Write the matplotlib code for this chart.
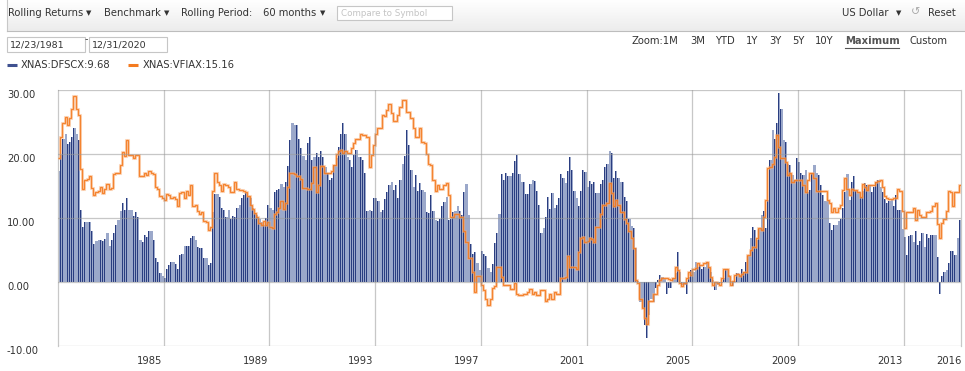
import numpy as np
import matplotlib
matplotlib.use("Agg")
import matplotlib.pyplot as plt
from matplotlib.patches import Rectangle

# ---------------- data (monthly rolling 60-month returns, %) ----------------
dfscx = [
    17.3, 19.8, 22.4, 23.2, 21.5, 21.9, 22.7, 24.0, 23.1, 22.2,
    11.2, 8.6, 9.4, 9.4, 9.3, 8.0, 5.9, 6.4, 6.6, 6.5,
    6.4, 6.7, 7.6, 5.6, 6.6, 7.6, 8.9, 9.7, 11.1, 12.4,
    11.2, 13.1, 11.2, 11.2, 10.3, 11.0, 10.2, 6.5, 6.3, 7.4,
    7.1, 8.0, 8.0, 6.6, 3.8, 3.1, 1.4, 1.0, 0.6, 2.0,
    2.7, 3.1, 3.1, 2.8, 2.0, 4.2, 4.4, 5.6, 5.6, 5.6,
    6.8, 7.2, 6.6, 5.4, 5.3, 5.3, 3.7, 3.7, 2.7, 3.0,
    11.0, 13.8, 13.7, 13.3, 11.5, 11.2, 10.2, 11.2, 9.9, 10.3,
    10.2, 11.6, 12.0, 13.2, 13.6, 13.9, 13.3, 13.1, 11.5, 10.8,
    10.5, 9.9, 9.3, 8.9, 10.0, 12.1, 11.5, 11.2, 14.1, 14.4,
    14.6, 15.3, 14.8, 15.7, 18.1, 22.2, 24.9, 24.6, 24.5, 22.4,
    21.0, 19.7, 19.1, 21.7, 22.6, 19.1, 19.6, 20.1, 19.6, 20.4,
    19.6, 18.0, 17.0, 15.9, 16.2, 18.3, 19.3, 21.1, 23.2, 24.8,
    23.2, 19.6, 19.1, 18.0, 19.8, 20.6, 19.6, 19.6, 19.1, 17.0,
    11.1, 11.3, 11.1, 13.1, 13.1, 12.6, 10.9, 11.3, 12.9, 14.0,
    15.2, 15.7, 14.4, 15.2, 13.1, 15.9, 18.4, 19.7, 23.8, 21.4,
    17.5, 14.9, 16.7, 14.2, 15.4, 14.4, 14.0, 11.0, 10.8, 13.6,
    11.1, 9.7, 9.5, 9.8, 11.9, 12.5, 13.3, 9.7, 9.9, 11.0,
    11.1, 11.9, 11.1, 10.5, 14.1, 15.3, 10.5, 5.9, 4.3, 4.7,
    2.9, 1.9, 4.9, 4.3, 4.0, 2.2, 1.5, 2.8, 6.1, 7.6,
    10.7, 16.8, 15.9, 17.1, 16.5, 16.5, 17.1, 18.9, 19.8, 16.8,
    15.7, 15.7, 13.7, 13.7, 15.3, 15.9, 15.8, 14.2, 12.0, 7.7,
    8.5, 10.2, 13.3, 11.4, 13.9, 11.5, 12.1, 13.2, 16.8, 16.3,
    15.4, 17.3, 19.5, 17.5, 14.2, 13.1, 11.9, 14.2, 17.5, 17.2,
    14.9, 15.8, 15.3, 15.7, 13.9, 13.9, 15.3, 15.9, 18.0, 18.4,
    20.5, 20.2, 16.3, 17.3, 16.3, 15.7, 15.7, 13.3, 12.6, 9.9,
    8.8, 8.4, 5.3, 0.1, -3.1, -4.1, -6.7, -8.8, -5.2, -2.6,
    -3.1, -1.0, 0.3, 1.1, 0.8, 0.4, -1.8, -1.0, -1.0, 0.6,
    1.4, 4.7, 1.6, -0.5, -0.5, -1.8, 0.8, 1.9, 1.6, 3.2,
    2.4, 2.7, 2.0, 2.4, 3.2, 2.4, 1.6, 0.3, -1.3, -0.5,
    -0.1, -0.2, 0.7, 2.0, 1.1, 0.2, -0.7, 0.2, 1.4, 1.1,
    2.1, 1.6, 3.2, 4.0, 6.8, 8.6, 8.1, 6.6, 8.3, 10.5,
    11.1, 8.4, 12.8, 19.1, 23.8, 22.4, 24.8, 29.5, 27.1, 22.2,
    21.9, 18.5, 18.3, 16.7, 15.9, 19.3, 18.7, 17.0, 16.7, 17.5,
    14.1, 14.4, 17.1, 18.3, 17.0, 16.7, 15.2, 13.6, 12.6, 12.8,
    9.2, 8.1, 8.9, 8.9, 9.5, 9.9, 11.6, 14.1, 16.8, 12.8,
    15.7, 16.5, 14.2, 14.1, 13.3, 14.2, 15.4, 15.1, 15.2, 14.1,
    14.9, 15.7, 15.9, 14.9, 14.1, 13.0, 12.3, 12.7, 12.8, 11.9,
    13.6, 11.3, 11.3, 8.3, 7.1, 4.2, 7.2, 7.3, 6.3, 7.9,
    5.8, 6.4, 7.7, 5.4, 7.5, 6.8, 7.4, 7.4, 7.4, 3.9,
    -1.9, 1.0, 1.5, 1.9, 2.9, 4.8, 4.8, 4.2, 6.8, 9.68,
]
vfiax = [
    19.4, 22.7, 24.8, 25.8, 24.6, 25.6, 27.1, 29.0, 27.0, 26.1,
    17.6, 14.6, 15.9, 16.1, 16.6, 14.7, 13.6, 14.0, 14.2, 14.9,
    13.9, 14.5, 15.3, 14.5, 14.7, 16.8, 17.0, 17.1, 18.3, 20.3,
    19.7, 22.2, 19.9, 19.8, 19.3, 19.9, 19.9, 16.6, 16.6, 17.1,
    16.7, 17.3, 17.0, 16.8, 14.9, 14.6, 13.5, 13.1, 12.8, 13.7,
    13.6, 13.1, 13.3, 12.9, 11.8, 13.9, 14.1, 13.2, 14.2, 13.6,
    15.2, 11.9, 12.0, 11.1, 10.7, 11.0, 9.5, 9.4, 8.1, 8.6,
    14.2, 17.0, 15.7, 15.2, 14.2, 15.3, 15.2, 14.9, 14.0, 14.1,
    15.6, 14.5, 14.4, 14.4, 14.2, 14.1, 13.5, 12.0, 11.4, 10.8,
    10.2, 9.2, 8.9, 9.5, 8.9, 9.3, 8.6, 8.5, 10.6, 11.0,
    11.5, 12.6, 11.4, 12.4, 14.9, 17.0, 17.0, 16.8, 16.5, 16.5,
    16.1, 14.7, 14.7, 14.6, 14.5, 15.5, 18.0, 14.0, 15.2, 18.1,
    18.1, 17.0, 17.0, 17.0, 17.3, 18.3, 20.0, 20.4, 20.6, 20.2,
    20.4, 20.1, 20.1, 21.0, 21.7, 22.4, 22.4, 23.1, 22.9, 22.9,
    22.7, 18.0, 19.8, 21.4, 23.2, 24.1, 24.1, 26.1, 26.0, 26.9,
    27.8, 26.4, 25.1, 25.1, 26.1, 27.3, 28.4, 28.4, 26.6, 26.6,
    25.6, 24.0, 22.7, 22.7, 24.0, 21.9, 21.7, 20.0, 18.5, 18.3,
    15.9, 14.2, 15.2, 14.5, 14.5, 15.2, 15.4, 13.6, 10.1, 10.1,
    10.7, 10.7, 10.2, 10.2, 7.9, 6.3, 3.7, 3.7, 1.6, -1.5,
    1.0, 1.0, -0.5, -1.25, -2.6, -3.6, -2.6, -1.0, -0.7, 2.4,
    2.4, 0.8, -0.4, -0.5, -0.5, -1.1, -1.1, -0.2, -1.8, -2.1,
    -2.1, -1.9, -1.9, -1.5, -1.1, -1.9, -1.5, -2.0, -2.0, -1.25,
    -1.25, -3.0, -2.6, -1.9, -2.6, -1.5, -1.8, -1.8, 0.7, 0.7,
    0.8, 4.0, 2.4, 2.4, 2.4, 2.1, 4.7, 6.9, 7.1, 6.3,
    6.4, 6.8, 6.7, 6.3, 8.6, 8.6, 10.7, 12.0, 12.0, 12.3,
    15.5, 13.9, 11.8, 12.8, 12.0, 11.0, 11.0, 9.9, 9.2, 7.9,
    6.9, 5.3, 0.3, -0.2, -2.6, -4.1, -5.7, -6.6, -3.0, -3.0,
    -1.8, -1.8, -0.5, 0.3, 0.7, 0.7, 0.6, 0.5, 0.3, 0.6,
    2.4, 1.9, -0.2, -0.7, -0.2, 0.6, 1.6, 1.1, 2.1, 2.2,
    2.9, 2.7, 2.7, 2.9, 3.2, 2.4, 0.8, -0.5, 0.0, -0.1,
    -0.4, 0.6, 2.0, 2.0, 1.0, -0.5, 0.2, 1.1, 1.2, 1.0,
    1.2, 1.6, 1.6, 4.2, 5.0, 5.5, 5.5, 6.9, 8.4, 8.1,
    10.2, 12.8, 17.8, 18.0, 18.5, 19.6, 23.0, 21.1, 19.3, 19.3,
    18.8, 16.7, 17.0, 15.7, 16.0, 16.0, 16.0, 16.0, 15.2, 14.0,
    15.9, 17.1, 17.1, 16.2, 14.2, 14.2, 14.2, 14.2, 14.2, 12.8,
    12.3, 10.9, 11.5, 10.9, 11.6, 12.1, 14.4, 16.3, 14.6, 13.6,
    14.6, 14.4, 14.4, 14.1, 13.3, 15.3, 14.9, 14.4, 15.2, 15.2,
    15.2, 15.7, 15.8, 15.9, 14.9, 13.4, 13.1, 13.0, 13.0, 13.1,
    13.1, 14.5, 14.2, 11.1, 8.5, 10.9, 10.9, 10.9, 11.5, 9.7,
    11.2, 10.5, 10.1, 10.1, 10.9, 10.9, 11.1, 11.8, 12.3, 9.0,
    6.8, 9.2, 9.9, 11.1, 14.2, 14.1, 11.8, 14.1, 14.1, 15.16,
]
y_ticks = [-10, 0, 10, 20, 30]
y_labels = ["-10.00", "0.00", "10.00", "20.00", "30.00"]
grid_months = [47.5, 95.5, 143.5, 191.5, 239.5, 287.5, 335.5, 383.5]
x_labels = ["1985", "1989", "1993", "1997", "2001", "2005", "2009", "2013", "2016"]
x_label_pos = [41, 89, 137, 185, 233, 281, 329, 377, 404]
legend_names = ["XNAS:DFSCX:9.68", "XNAS:VFIAX:15.16"]

W, H = 965, 371
fig = plt.figure(figsize=(W / 100, H / 100), dpi=100)
fig.patch.set_facecolor("white")
FS = 7.2
TXT = "#333333"


def px(x, y):
    return x / W, 1 - y / H


# ---------------- toolbar ----------------
tb = fig.add_axes([7 / W, 1 - 31 / H, 1 - 7 / W, 31 / H])
grad = np.linspace(0, 1, 64).reshape(-1, 1)
tb.imshow(grad, aspect="auto", cmap=matplotlib.colors.LinearSegmentedColormap.from_list(
    "g", ["#ffffff", "#ececec"]), extent=[0, 1, 0, 1], origin="upper")
tb.set_xlim(0, 1)
tb.set_ylim(0, 1)
tb.set_xticks([])
tb.set_yticks([])
for s in ["top", "right"]:
    tb.spines[s].set_visible(False)
tb.spines["left"].set_color("#c8c8c8")
tb.spines["bottom"].set_color("#bdbdbd")


def t(x, y, s, **kw):
    kw.setdefault("fontsize", FS)
    kw.setdefault("color", TXT)
    fig.text(*px(x, y), s, va="center", ha="left", **kw)


t(8, 12.5, "Rolling Returns")
t(86, 13, "▼", fontsize=5)
t(104, 12.5, "Benchmark")
t(164, 13, "▼", fontsize=5)
t(181, 12.5, "Rolling Period:")
t(263, 12.5, "60 months")
t(320, 13, "▼", fontsize=5)
fig.patches.append(Rectangle(px(337, 20), 115 / W, 14 / H, transform=fig.transFigure,
                             facecolor="white", edgecolor="#c6c6c6", lw=0.8))
t(341, 13, "Compare to Symbol", color="#c4c4c4", fontsize=6.3)
t(842, 12.5, "US Dollar")
t(896, 13, "▼", fontsize=5)
t(911, 12.5, "↺", color="#aaaaaa", fontsize=8)
t(928, 12.5, "Reset")

# date boxes
for x0, s in [(7, "12/23/1981"), (89, "12/31/2020")]:
    fig.patches.append(Rectangle(px(x0, 52), 78 / W, 15 / H, transform=fig.transFigure,
                                 facecolor="white", edgecolor="#c6c6c6", lw=0.8))
    t(x0 + 3, 44.5, s, fontsize=6.8)
t(85, 40, "-", fontsize=6.8)

# zoom row
for x0, s in [(632, "Zoom:1M"), (690, "3M"), (715, "YTD"), (746, "1Y"), (769, "3Y"),
              (792, "5Y"), (815, "10Y"), (909, "Custom")]:
    t(x0, 41.5, s)
t(845, 41.5, "Maximum", fontweight="bold", color="#555555")
fig.lines.append(plt.Line2D([845 / W, 899 / W], [1 - 47.5 / H] * 2, transform=fig.transFigure,
                            color="#555555", lw=0.8))

# legend
blue_leg = "#3f5190"
orange = "#f47b20"
fig.lines.append(plt.Line2D([7 / W, 17 / W], [1 - 64.5 / H] * 2, transform=fig.transFigure,
                            color=blue_leg, lw=2.2, solid_capstyle="butt"))
t(21, 64.5, legend_names[0])
fig.lines.append(plt.Line2D([128 / W, 138 / W], [1 - 64.5 / H] * 2, transform=fig.transFigure,
                            color=orange, lw=2.2, solid_capstyle="butt"))
t(143, 64.5, legend_names[1])

# ---------------- main chart ----------------
ax = fig.add_axes([58 / W, (H - 346) / H, 903 / W, 256 / H])
n = len(dfscx)
x = np.arange(n)
ax.bar(x, dfscx, width=1.0, color="#9ba8ca", linewidth=0, zorder=2)
ax.bar(x - 0.3, dfscx, width=0.34, color="#2a3d80", linewidth=0, zorder=2.1)

edges = np.arange(n + 1) - 0.5
ax.stairs(vfiax, edges, baseline=None, color="#fab37f", lw=2.2, alpha=0.45, zorder=3)
ax.stairs(vfiax, edges, baseline=None, color=orange, lw=1.0, alpha=0.9, zorder=3.1)

ax.set_xlim(-0.5, n - 0.5)
ax.set_ylim(-10, 30)
for v in y_ticks:
    ax.axhline(v, color="#9a9a9a", lw=0.9, alpha=0.55, zorder=4)
for g in grid_months:
    ax.axvline(g, color="#9a9a9a", lw=0.9, alpha=0.55, zorder=4)
ax.set_xticks([])
ax.set_yticks([])
for s in ["top", "bottom"]:
    ax.spines[s].set_visible(False)
for s in ["left", "right"]:
    ax.spines[s].set_color("#c8c8c8")
    ax.spines[s].set_linewidth(0.9)

for v, lab in zip(y_ticks, y_labels):
    ax.annotate(lab, xy=(7, v), xycoords=("figure pixels", "data"), xytext=(0, -5),
                textcoords="offset pixels", ha="left", va="center", fontsize=FS,
                color=TXT, annotation_clip=False)
for p, lab in zip(x_label_pos, x_labels):
    ax.annotate(lab, xy=(p, -10), xycoords="data", xytext=(0, -15),
                textcoords="offset pixels", ha="center", va="center", fontsize=FS,
                color=TXT, annotation_clip=False)

fig.savefig("out.png", dpi=100, facecolor="white")
